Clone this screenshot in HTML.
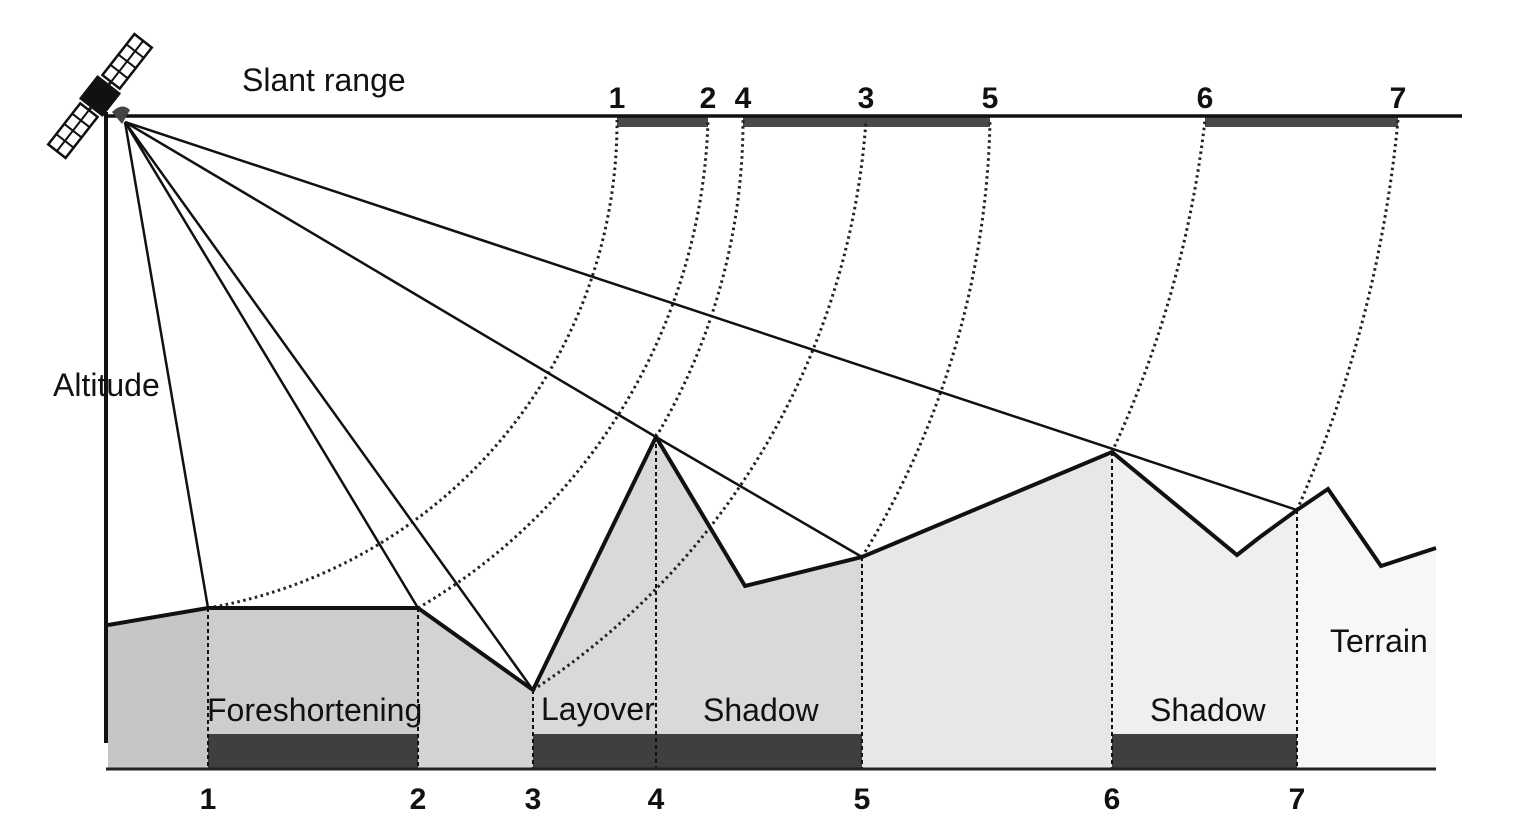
<!DOCTYPE html>
<html><head><meta charset="utf-8"><style>
html,body{margin:0;padding:0;background:#fff;}
svg{display:block;font-family:"Liberation Sans",Arial,sans-serif;}
</style></head><body>
<svg id="c" width="1514" height="840" viewBox="0 0 1514 840" xmlns="http://www.w3.org/2000/svg"></svg>
<script>
// Data arrays
const terrainX = [108,208,418,533,656,745,862,1112,1237,1260,1297,1328,1381,1436];
const terrainY = [625,608,608,690,437,586,557,452,555,537,510,489,566,548];
const markerLabels = ['1','2','3','4','5','6','7'];
const groundX = [208,418,533,656,862,1112,1297];
const groundY = [608,608,690,437,557,452,510];
const slantX = [617,708,866,743,990,1205,1398];
const regionEdges = [108,208,418,533,862,1112,1297,1436];
const regionFill = ['#c6c6c6','#cdcdcd','#d3d3d3','#d9d9d9','#e7e7e7','#efefef','#f7f7f7'];
const groundBars = [[0,1],[2,4],[5,6]];
const slantBars = [[0,1],[3,4],[5,6]];
const regionLabels = ['Foreshortening','Layover','Shadow','Shadow','Terrain'];
const regionLabelX = [207,541,703,1150,1330];
const regionLabelY = [721,720,721,721,652];
const rays = [[0],[1],[2],[3,4],[6]];
const S = {x:125,y:122};
const baseY = 768, topY = 116;

const svg = document.getElementById('c');
const NS = 'http://www.w3.org/2000/svg';
function mk(tag, attrs, parent){
  const e = document.createElementNS(NS, tag);
  for (const k in attrs) e.setAttribute(k, attrs[k]);
  (parent||svg).appendChild(e); return e;
}
function yAt(x){
  for (let i=0;i<terrainX.length-1;i++){
    if (x>=terrainX[i] && x<=terrainX[i+1]){
      const t=(x-terrainX[i])/(terrainX[i+1]-terrainX[i]);
      return terrainY[i]+t*(terrainY[i+1]-terrainY[i]);
    }
  }
  return terrainY[terrainY.length-1];
}
for (let r=0;r<regionFill.length;r++){
  const x0=regionEdges[r], x1=regionEdges[r+1];
  let pts=[[x0,baseY],[x0,yAt(x0)]];
  terrainX.forEach((x,i)=>{ if(x>x0&&x<x1) pts.push([x,terrainY[i]]); });
  pts.push([x1,yAt(x1)],[x1,baseY]);
  const p=mk('polygon',{points:pts.map(q=>q.join(',')).join(' '),fill:regionFill[r]});
  
  
}
groundBars.forEach((b,i)=>{
  const r=mk('rect',{x:groundX[b[0]],y:734,width:groundX[b[1]]-groundX[b[0]],height:baseY-734,fill:'#3f3f41'});
  
  
});
slantBars.forEach((b,i)=>{
  const r=mk('rect',{x:slantX[b[0]],y:117,width:slantX[b[1]]-slantX[b[0]],height:10,fill:'#4a4a4a'});
  
  
});
groundX.forEach((x,i)=>{
  const l=mk('line',{x1:x,y1:groundY[i],x2:x,y2:baseY,stroke:'#111','stroke-width':2,'stroke-dasharray':'4,3'});
  
  
});
groundX.forEach((x,i)=>{
  const d1=Math.hypot(x-S.x,groundY[i]-S.y), d2=Math.hypot(slantX[i]-S.x,topY+4-S.y);
  const r=Math.max(d1,d2);
  const p=mk('path',{d:`M${x},${groundY[i]} A${r},${r} 0 0 0 ${slantX[i]},${topY+4}`,fill:'none',stroke:'#222','stroke-width':3,'stroke-dasharray':'2.5,3.5'});
  
  
});
rays.forEach((chain,i)=>{
  let pts=[[S.x,S.y]].concat(chain.map(j=>[groundX[j],groundY[j]]));
  const p=mk('polyline',{points:pts.map(q=>q.join(',')).join(' '),fill:'none',stroke:'#111','stroke-width':2.5});
  
  
});
const tl=mk('polyline',{points:terrainX.map((x,i)=>x+','+terrainY[i]).join(' '),fill:'none',stroke:'#111','stroke-width':4,'stroke-linejoin':'miter'});


const ax1=mk('line',{x1:106,y1:112,x2:106,y2:743,stroke:'#111','stroke-width':4});


const ax2=mk('line',{x1:108,y1:116,x2:1462,y2:116,stroke:'#111','stroke-width':3.5});


const ax3=mk('line',{x1:106,y1:769,x2:1436,y2:769,stroke:'#222','stroke-width':3});


function txt(s,x,y,size,weight,name,anchor){
  const t=mk('text',{x:x,y:y,'font-size':size,'font-weight':weight||'normal',fill:'#111','text-anchor':anchor||'start'});
  t.textContent=s;
  
  
  return t;
}
markerLabels.forEach((s,i)=>{
  txt(s,groundX[i],809,30,'bold','ground-label-'+s,'middle');
  txt(s,slantX[i],108,30,'bold','slant-label-'+s,'middle');
});
regionLabels.forEach((s,i)=>txt(s,regionLabelX[i],regionLabelY[i],32,'normal','region-label-'+s.toLowerCase()+'-'+(i+1)));
txt('Slant range',242,91,32,'normal','slant-range-title');
txt('Altitude',53,396,32,'normal','altitude-title');
const g=mk('g',{transform:'translate(100,96) rotate(-52)'});


mk('rect',{x:-15,y:-15,width:30,height:30,fill:'#111'},g);
[[18],[-70]].forEach(([x0])=>{
  mk('rect',{x:x0,y:-11,width:52,height:22,fill:'#fff',stroke:'#111','stroke-width':2.5},g);
  for(let k=1;k<4;k++) mk('line',{x1:x0+k*13,y1:-11,x2:x0+k*13,y2:11,stroke:'#111','stroke-width':2},g);
  mk('line',{x1:x0,y1:0,x2:x0+52,y2:0,stroke:'#111','stroke-width':2},g);
});
mk('line',{x1:15,y1:0,x2:18,y2:0,stroke:'#111','stroke-width':3},g);
mk('line',{x1:-18,y1:0,x2:-15,y2:0,stroke:'#111','stroke-width':3},g);
const ant=mk('path',{d:'M112,112 Q122,102 130,110 L122,124 Z',fill:'#444'});


</script>
</body></html>
